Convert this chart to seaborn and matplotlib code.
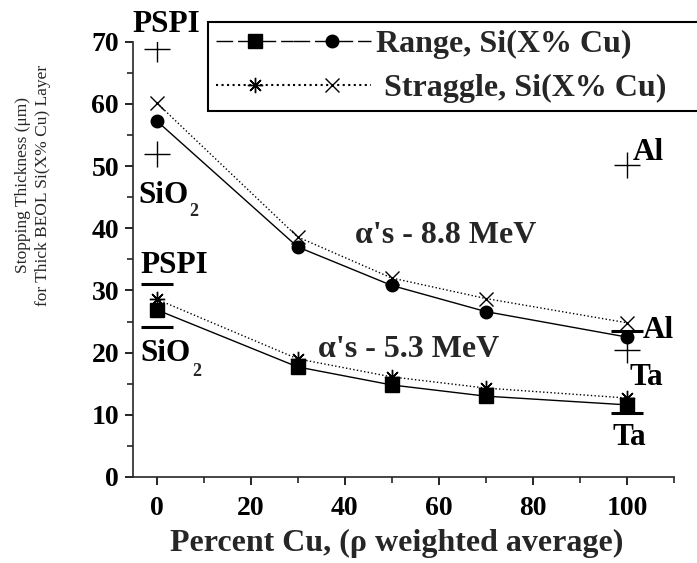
import numpy as np
import pandas as pd
import matplotlib
matplotlib.use('Agg')
import matplotlib.pyplot as plt
import seaborn as sns
from matplotlib.lines import Line2D
from matplotlib.legend_handler import HandlerTuple
from matplotlib.ticker import MultipleLocator

# ---- data ----
cu_pct = [0, 30, 50, 70, 100]
range_88 = [57.3, 37.0, 30.8, 26.6, 22.5]
straggle_88 = [60.2, 38.6, 32.0, 28.7, 24.8]
range_53 = [26.9, 17.7, 14.8, 13.0, 11.6]
straggle_53 = [28.6, 19.0, 16.1, 14.3, 12.7]

ref_x = [0, 0, 100, 100]
ref_88 = [68.8, 51.9, 50.2, 20.4]   # PSPI, SiO2, Al, Ta  (8.8 MeV, '+')
ref_53 = [31.1, 24.2, 23.5, 10.3]   # PSPI, SiO2, Al, Ta  (5.3 MeV, bar)

legend_labels = ['Range, Si(X% Cu)', ' Straggle, Si(X% Cu)']
x_ticks = [0, 20, 40, 60, 80, 100]
y_ticks = [0, 10, 20, 30, 40, 50, 60, 70]

sns.set_style('ticks')
plt.rcParams['font.family'] = ['Liberation Serif', 'DejaVu Serif']
plt.rcParams['font.weight'] = 'bold'
plt.rcParams['axes.linewidth'] = 1.2

W, H = 697, 563
fig = plt.figure(figsize=(W / 100, H / 100), dpi=100)
ax = fig.add_axes([133 / W, 1 - 477 / H, (674 - 133) / W, (477 - 41.7) / H])

df = pd.DataFrame({'cu': cu_pct, 'r88': range_88, 's88': straggle_88,
                   'r53': range_53, 's53': straggle_53})

common = dict(ax=ax, color='black', sort=False, legend=False)
sns.lineplot(data=df, x='cu', y='s88', linestyle=':', lw=1.0, marker='x',
             markersize=10, markeredgewidth=1.0, markeredgecolor='black', **common)
sns.lineplot(data=df, x='cu', y='r88', linestyle='-', lw=1.0, marker='o',
             markersize=9, markeredgewidth=1.0, markeredgecolor='black', **common)
sns.lineplot(data=df, x='cu', y='s53', linestyle=':', lw=1.0, marker=(8, 2, 0),
             markersize=11, markeredgewidth=1.0, markeredgecolor='black', **common)
sns.lineplot(data=df, x='cu', y='r53', linestyle='-', lw=1.0, marker='s',
             markersize=9.5, markeredgewidth=1.0, markeredgecolor='black', **common)

sns.scatterplot(x=ref_x, y=ref_88, ax=ax, marker='+', s=19 ** 2, color='black',
                linewidth=1.0, legend=False, zorder=5)
sns.scatterplot(x=ref_x, y=ref_53, ax=ax, marker='_', s=23.5 ** 2, color='black',
                linewidth=2.2, legend=False, zorder=5)

ax.set_xlim(-5, 110)
ax.set_ylim(0, 70)
ax.set_xticks(x_ticks)
ax.set_yticks(y_ticks)
ax.xaxis.set_minor_locator(MultipleLocator(10))
ax.yaxis.set_minor_locator(MultipleLocator(5))
ax.tick_params(axis='both', which='major', direction='out', length=6, width=1.2,
               labelsize=20, colors='black')
ax.tick_params(axis='both', which='minor', direction='out', length=4, width=1.2)
ax.tick_params(axis='x', which='major', pad=8)
ax.tick_params(axis='y', which='major', pad=4)
sns.despine(ax=ax)

ax.set_xlabel('Percent Cu, (ρ weighted average)', fontsize=23, fontweight='bold')
ax.xaxis.set_label_coords((397 - 133) / 541, (477 - 529) / 435.3)
ax.set_ylabel('Stopping Thickness (μm)\nfor Thick BEOL Si(X% Cu) Layer',
              fontsize=12.5, fontweight='normal', linespacing=1.3)
ax.yaxis.set_label_coords((51 - 133) / 541, (477 - 185) / 435.3)

tk = dict(fontsize=22.5, fontweight='bold', color='black')
ax.text(2.0, 71.5, 'PSPI', ha='center', va='baseline', **tk)
ax.text(-3.8, 44.1, 'SiO', ha='left', va='baseline', **tk)
ax.text(7.0, 41.9, '2', ha='left', va='baseline', fontsize=13, fontweight='bold')
ax.text(3.7, 32.85, 'PSPI', ha='center', va='baseline', **tk)
ax.text(-3.5, 18.7, 'SiO', ha='left', va='baseline', **tk)
ax.text(7.5, 16.2, '2', ha='left', va='baseline', fontsize=13, fontweight='bold')
ax.text(101.3, 51.0, 'Al', ha='left', va='baseline', **tk)
ax.text(103.4, 22.4, 'Al', ha='left', va='baseline', **tk)
ax.text(100.6, 14.8, 'Ta', ha='left', va='baseline', **tk)
ax.text(97.0, 5.15, 'Ta', ha='left', va='baseline', **tk)
ax.text(42.1, 37.7, "α's - 8.8 MeV", ha='left', va='baseline',
        fontsize=23, fontweight='bold')
ax.text(34.3, 19.3, "α's - 5.3 MeV", ha='left', va='baseline',
        fontsize=23, fontweight='bold')

h_sq = Line2D([], [], color='black', marker='s', markersize=9.5, lw=1, dashes=(12, 3.5))
h_ci = Line2D([], [], color='black', marker='o', markersize=9, lw=1, dashes=(12, 3.5))
h_as = Line2D([], [], color='black', marker=(8, 2, 0), markersize=11, mew=1, ls=':')
h_x = Line2D([], [], color='black', marker='x', markersize=10, mew=1, ls=':')
leg_top = 1 - 22 / H
leg_h = 86 / H
leg = ax.legend([(h_sq, h_ci), (h_as, h_x)], legend_labels,
                handler_map={tuple: HandlerTuple(ndivide=None, pad=0)},
                loc='upper left', mode='expand',
                bbox_to_anchor=(208 / W, leg_top - leg_h, (700 - 208) / W, leg_h),
                bbox_transform=fig.transFigure, frameon=True, fancybox=False,
                edgecolor='black', framealpha=1, fontsize=23, handlelength=4.85,
                handletextpad=0.15, borderpad=0.25, labelspacing=0.45,
                borderaxespad=0, numpoints=1)
leg.get_frame().set_linewidth(1.5)

fig.savefig('out.png', dpi=100)
